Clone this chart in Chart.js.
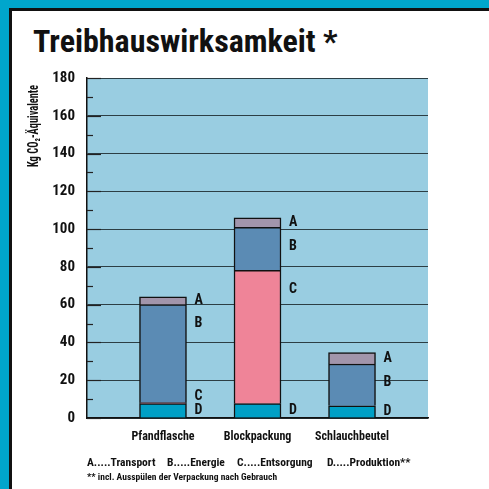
<!DOCTYPE html>
<html lang="de">
<head>
  <meta charset="UTF-8">
  <title>Treibhauswirksamkeit</title>
  <script src="https://cdn.jsdelivr.net/npm/chart.js"></script>
  <style>
    body {
      margin: 0;
      width: 489px;
      height: 489px;
      background: #00a6cc;
      overflow: hidden;
      position: relative;
      font-family: "Roboto Condensed", Roboto, sans-serif;
      font-weight: bold;
      color: #111;
    }
    #panel {
      position: absolute;
      left: 9px;
      top: 8px;
      right: 0;
      bottom: 0;
      background: #fff;
      border-left: 3px solid #111;
      border-top: 3px solid #111;
    }
    #title {
      position: absolute;
      left: 33px;
      top: 22px;
      font-size: 32px;
    }
    .leg {
      position: absolute;
      top: 455px;
      font-size: 11.5px;
      white-space: nowrap;
    }
    #note {
      position: absolute;
      left: 87px;
      top: 471px;
      font-size: 9.5px;
    }
    canvas { position: absolute; left: 0; top: 0; }
  </style>
</head>
<body>
  <div id="panel"></div>
  <div id="title">Treibhauswirksamkeit *</div>
  <canvas id="c" width="489" height="489"></canvas>
  <div class="leg" style="left:87px">A.....Transport</div>
  <div class="leg" style="left:167px">B.....Energie</div>
  <div class="leg" style="left:237px">C.....Entsorgung</div>
  <div class="leg" style="left:327px">D.....Produktion**</div>
  <div id="note">** incl. Ausspülen der Verpackung nach Gebrauch</div>

  <script>
    // Verpackungen
    const categories = ["Pfandflasche", "Blockpackung", "Schlauchbeutel"];
    // Kg CO2-Äquivalente je Anteil (unten -> oben: D, C, B, A)
    const produktion = [7.6, 7.6, 6.5];   // D
    const entsorgung = [0.5, 70.6, 0];    // C
    const energie    = [51.9, 22.8, 22.1]; // B
    const transport  = [4.2, 5.0, 6.0];   // A
    const yTicks = [0, 20, 40, 60, 80, 100, 120, 140, 160, 180];

    const FONT = '"Roboto Condensed", Roboto, sans-serif';

    const series = [
      { key: 'D', data: produktion, color: '#00a0c6' },
      { key: 'C', data: entsorgung, color: '#ef8498' },
      { key: 'B', data: energie,    color: '#5b8bb4' },
      { key: 'A', data: transport,  color: '#a295ab' }
    ];

    const plotBg = {
      id: 'plotBg',
      beforeDraw(chart) {
        const { ctx, chartArea: a } = chart;
        ctx.save();
        ctx.fillStyle = '#99cde1';
        ctx.fillRect(a.left, a.top, a.right - a.left, a.bottom - a.top);
        ctx.restore();
      },
      beforeDatasetsDraw(chart) {
        // kleine Teilstriche alle 10
        const { ctx, chartArea: a, scales: { y } } = chart;
        ctx.save();
        ctx.strokeStyle = '#222';
        ctx.lineWidth = 1.2;
        for (let v = 10; v < 180; v += 20) {
          const py = Math.round(y.getPixelForValue(v)) + 0.5;
          ctx.beginPath();
          ctx.moveTo(a.left, py);
          ctx.lineTo(a.left + 6, py);
          ctx.stroke();
        }
        yTicks.forEach(v => {
          const py = Math.round(y.getPixelForValue(v)) + 0.5;
          ctx.beginPath();
          ctx.moveTo(a.left, py);
          ctx.lineTo(a.left + 14, py);
          ctx.stroke();
        });
        ctx.restore();
      }
    };

    const extras = {
      id: 'extras',
      afterDatasetsDraw(chart) {
        const { ctx, scales: { y } } = chart;
        ctx.save();
        ctx.fillStyle = '#111';
        ctx.font = 'bold 14px ' + FONT;
        ctx.textAlign = 'left';
        ctx.textBaseline = 'middle';
        categories.forEach((cat, i) => {
          const bar = chart.getDatasetMeta(0).data[i];
          const x = bar.x + bar.width / 2 + 8;
          let base = 0;
          let prevY = Infinity;
          series.forEach(s => {
            const v = s.data[i];
            const top = base + v;
            if (v > 0) {
              const want = Math.max((base + top) / 2, top - 10);
              let py = y.getPixelForValue(want);
              py = Math.min(py, prevY - 14);
              ctx.fillText(s.key, x, py);
              prevY = py;
            }
            base = top;
          });
        });
        // Achsentitel, schmal gesetzt
        const t = 'Kg CO₂-Äquivalente';
        ctx.font = 'bold 14px ' + FONT;
        const k = 82 / ctx.measureText(t).width;
        ctx.translate(34, 85);
        ctx.rotate(-Math.PI / 2);
        ctx.scale(k, 1);
        ctx.textAlign = 'right';
        ctx.fillText(t, 0, 0);
        ctx.restore();
      }
    };

    new Chart(document.getElementById('c'), {
      type: 'bar',
      data: {
        datasets: series.map(s => ({
          label: s.key,
          data: s.data.map((v, i) => ({ x: i, y: v })),
          backgroundColor: s.color,
          borderColor: '#111',
          borderWidth: 1.5,
          barThickness: 47
        }))
      },
      options: {
        responsive: false,
        animation: false,
        layout: { padding: { left: 0, right: 61, top: 78, bottom: 0 } },
        plugins: { legend: { display: false }, tooltip: { enabled: false } },
        scales: {
          x: {
            type: 'linear',
            stacked: true,
            offset: false,
            min: -0.804,
            max: 2.804,
            afterBuildTicks: s => { s.ticks = categories.map((c, i) => ({ value: i })); },
            afterFit: s => { s.height = 71; },
            grid: { display: false, drawTicks: false },
            border: { color: '#111', width: 1.5 },
            ticks: {
              padding: 12,
              color: '#111',
              font: { family: FONT, size: 12, weight: 'bold' },
              callback: v => categories[v] || ''
            }
          },
          y: {
            stacked: true,
            min: 0,
            max: 180,
            afterBuildTicks: s => { s.ticks = yTicks.map(v => ({ value: v })); },
            afterFit: s => { s.width = 87; },
            grid: { color: '#2c3e44', lineWidth: 1, drawTicks: false },
            border: { color: '#111', width: 1.5 },
            ticks: {
              padding: 12,
              color: '#111',
              font: { family: FONT, size: 15, weight: 'bold' }
            }
          }
        }
      },
      plugins: [plotBg, extras]
    });
  </script>
</body>
</html>
